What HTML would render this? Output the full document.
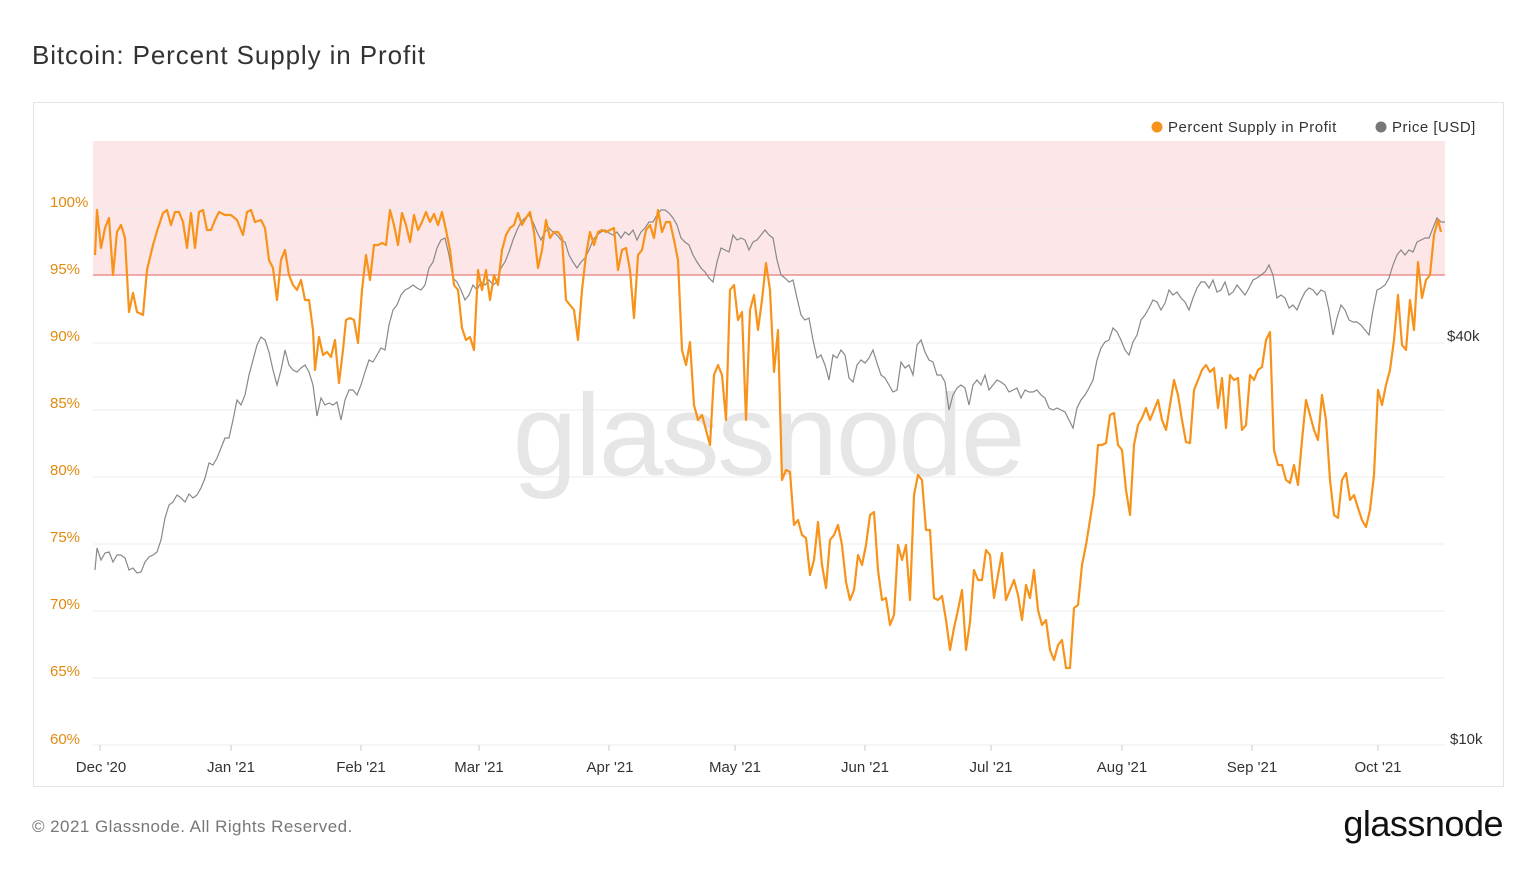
<!DOCTYPE html>
<html><head><meta charset="utf-8"><style>
body{margin:0;width:1536px;height:864px;background:#fff;font-family:"Liberation Sans",sans-serif;overflow:hidden}
</style></head><body>
<svg width="1536" height="864" xmlns="http://www.w3.org/2000/svg" font-family="Liberation Sans, sans-serif">
<text x="32" y="64" font-size="26" fill="#333" letter-spacing="0.9">Bitcoin: Percent Supply in Profit</text>
<rect x="33.5" y="102.5" width="1470" height="684" fill="#fff" stroke="#e3e3e3"/>
<rect x="93" y="141" width="1352" height="134" fill="#fde6e8"/>
<g stroke="#ececec" stroke-width="1">
<line x1="93" y1="209" x2="1445" y2="209"/><line x1="93" y1="343" x2="1445" y2="343"/>
<line x1="93" y1="410" x2="1445" y2="410"/><line x1="93" y1="477" x2="1445" y2="477"/>
<line x1="93" y1="544" x2="1445" y2="544"/><line x1="93" y1="611" x2="1445" y2="611"/>
<line x1="93" y1="678" x2="1445" y2="678"/><line x1="93" y1="745" x2="1445" y2="745"/>
</g>
<line x1="93" y1="275" x2="1445" y2="275" stroke="#e89090" stroke-width="1.5"/>
<g stroke="#ccc"><line x1="100" y1="745" x2="100" y2="751"/><line x1="231" y1="745" x2="231" y2="751"/><line x1="361" y1="745" x2="361" y2="751"/><line x1="479" y1="745" x2="479" y2="751"/><line x1="609" y1="745" x2="609" y2="751"/><line x1="735" y1="745" x2="735" y2="751"/><line x1="865" y1="745" x2="865" y2="751"/><line x1="991" y1="745" x2="991" y2="751"/><line x1="1122" y1="745" x2="1122" y2="751"/><line x1="1252" y1="745" x2="1252" y2="751"/><line x1="1378" y1="745" x2="1378" y2="751"/></g>
<text x="768" y="475" font-size="116" fill="#e6e6e6" text-anchor="middle" letter-spacing="-2">glassnode</text>
<g font-size="15" fill="#e08a10">
<text x="50" y="207">100%</text><text x="50" y="274">95%</text><text x="50" y="341">90%</text><text x="50" y="408">85%</text><text x="50" y="475">80%</text><text x="50" y="542">75%</text><text x="50" y="609">70%</text><text x="50" y="676">65%</text><text x="50" y="744">60%</text>
</g>
<g font-size="15" fill="#333"><text x="1447" y="341">$40k</text><text x="1450" y="744">$10k</text></g>
<g font-size="15" fill="#333" text-anchor="middle">
<text x="101" y="772">Dec '20</text><text x="231" y="772">Jan '21</text><text x="361" y="772">Feb '21</text><text x="479" y="772">Mar '21</text><text x="610" y="772">Apr '21</text><text x="735" y="772">May '21</text><text x="865" y="772">Jun '21</text><text x="991" y="772">Jul '21</text><text x="1122" y="772">Aug '21</text><text x="1252" y="772">Sep '21</text><text x="1378" y="772">Oct '21</text>
</g>
<circle cx="1157" cy="127" r="5.5" fill="#f7931a"/><text x="1168" y="132" font-size="15" fill="#333" letter-spacing="0.5">Percent Supply in Profit</text>
<circle cx="1381" cy="127" r="5.5" fill="#777"/><text x="1392" y="132" font-size="15" fill="#333" letter-spacing="0.5">Price [USD]</text>
<polyline fill="none" stroke="#888" stroke-width="1.2" points="95,570 97,548 101,560 105,553 109,552 113,562 117,555 121,555 125,558 129,570 133,568 137,573 141,572 145,562 149,557 153,555 157,552 161,540 165,518 169,505 173,502 177,495 181,498 185,502 189,494 193,498 197,495 201,488 205,478 209,463 213,465 217,458 221,448 225,438 229,438 233,420 237,400 241,405 245,395 249,375 253,360 257,345 261,337 265,340 269,352 273,370 277,385 281,370 285,350 289,365 293,370 297,372 301,368 305,365 309,372 313,385 317,416 321,398 325,405 329,403 333,405 337,402 341,420 345,400 349,390 353,390 357,395 361,385 365,372 369,360 373,362 377,355 381,348 385,350 389,325 393,310 397,305 401,295 405,290 409,288 413,285 417,288 421,290 425,285 429,268 433,262 437,248 441,240 445,238 449,255 453,278 457,282 461,290 465,300 469,295 473,285 477,290 481,282 485,285 489,280 493,285 497,282 501,268 505,262 509,252 513,240 517,230 521,222 525,218 529,215 533,222 537,232 541,240 545,232 549,228 553,232 557,235 561,240 565,242 569,255 573,262 577,268 581,262 585,258 589,250 593,240 597,235 601,232 605,230 609,233 613,235 617,232 621,238 625,232 629,235 633,230 637,240 641,232 645,228 649,222 653,222 657,215 661,210 665,210 669,213 673,218 677,225 681,238 685,242 689,245 693,255 697,262 701,268 705,272 709,278 713,282 717,262 721,248 725,250 729,252 733,235 737,240 741,238 745,240 749,250 753,242 757,240 761,235 765,230 769,235 773,238 777,260 781,275 785,278 789,282 793,280 797,298 801,315 805,320 809,318 813,340 817,358 821,355 825,365 829,380 833,355 837,358 841,350 845,355 849,378 853,382 857,365 861,360 865,363 869,358 873,350 877,363 881,375 885,378 889,385 893,392 897,390 901,362 905,368 909,365 913,375 917,345 921,340 925,352 929,360 933,362 937,375 941,375 945,382 949,410 953,395 957,388 961,385 965,388 969,405 973,385 977,380 981,385 985,375 989,390 993,385 997,380 1001,382 1005,385 1009,392 1013,390 1017,388 1021,398 1025,390 1029,392 1033,392 1037,390 1041,395 1045,398 1049,408 1053,410 1057,408 1061,410 1065,412 1069,420 1073,428 1077,408 1081,400 1085,395 1089,388 1093,380 1097,360 1101,348 1105,342 1109,340 1113,328 1117,332 1121,340 1125,350 1129,355 1133,342 1137,335 1141,320 1145,315 1149,308 1153,300 1157,302 1161,310 1165,303 1169,290 1173,295 1177,292 1181,298 1185,302 1189,310 1193,298 1197,288 1201,282 1205,282 1209,288 1213,280 1217,292 1221,290 1225,282 1229,295 1233,292 1237,285 1241,290 1245,295 1249,288 1253,280 1257,278 1261,275 1265,272 1269,265 1273,275 1277,298 1281,295 1285,298 1289,308 1293,305 1297,310 1301,300 1305,292 1309,288 1313,290 1317,295 1321,290 1325,292 1329,310 1333,335 1337,318 1341,305 1345,310 1349,320 1353,322 1357,322 1361,325 1365,330 1369,335 1373,310 1377,290 1381,288 1385,285 1389,278 1393,265 1397,255 1401,250 1405,255 1409,250 1413,252 1417,242 1421,240 1425,238 1429,238 1433,228 1437,218 1441,222 1445,222"/>
<polyline fill="none" stroke="#f7931a" stroke-width="2.2" stroke-linejoin="round" points="95,255 97,210 101,248 105,228 109,218 113,275 117,232 121,225 125,238 129,312 133,293 137,312 143,315 147,270 153,245 158,228 163,213 167,210 171,225 175,212 179,212 183,222 187,248 191,213 195,248 199,212 203,210 207,230 211,230 215,220 219,212 225,215 231,215 237,220 243,235 247,212 251,210 255,222 261,220 265,228 269,260 273,268 277,300 281,260 285,250 289,275 293,285 297,290 301,280 305,300 309,300 313,330 315,370 319,337 323,355 327,352 331,357 335,340 339,383 343,350 346,320 350,318 354,320 358,343 362,290 366,255 370,280 374,245 378,245 382,243 386,245 390,210 394,225 398,245 402,213 406,225 410,242 414,215 418,230 422,222 426,212 430,222 434,214 438,225 442,212 446,230 450,250 454,285 458,290 462,328 466,340 470,337 474,350 478,270 482,290 486,270 490,300 494,275 498,285 502,250 506,235 510,228 514,225 518,213 522,225 526,218 530,212 534,232 538,268 542,250 546,220 550,238 554,232 558,232 562,238 566,300 570,305 574,310 578,340 582,290 586,255 590,232 594,245 598,232 602,230 606,232 610,230 614,228 618,270 622,250 626,248 630,270 634,318 638,255 642,250 646,230 650,225 654,238 658,210 662,232 666,222 670,222 674,240 678,260 682,350 686,365 690,342 694,405 698,420 702,415 706,430 710,445 714,375 718,365 722,375 726,420 730,290 734,285 738,320 742,312 746,420 750,310 754,295 758,330 762,300 766,263 770,290 774,372 778,330 782,480 786,470 790,472 794,525 798,520 802,535 806,538 810,575 814,560 818,522 822,565 826,588 830,540 834,535 838,525 842,545 846,582 850,600 854,590 858,555 862,565 866,545 870,515 874,512 878,570 882,600 886,598 890,625 894,615 898,545 902,560 906,545 910,600 914,495 918,475 922,480 926,530 930,530 934,598 938,600 942,596 946,620 950,650 954,628 958,610 962,590 966,650 970,622 974,570 978,580 982,580 986,550 990,555 994,598 998,575 1002,553 1006,600 1010,590 1014,580 1018,595 1022,620 1026,585 1030,598 1034,570 1038,610 1042,625 1046,620 1050,650 1054,660 1058,645 1062,640 1066,668 1070,668 1074,608 1078,605 1082,565 1086,545 1090,520 1094,495 1098,445 1102,445 1106,443 1110,415 1114,413 1118,445 1122,450 1126,490 1130,515 1134,445 1138,425 1142,418 1146,408 1150,420 1154,410 1158,400 1162,420 1166,430 1170,405 1174,380 1178,395 1182,420 1186,442 1190,443 1194,390 1198,380 1202,370 1206,365 1210,372 1214,368 1218,408 1222,378 1226,428 1230,375 1234,380 1238,378 1242,430 1246,425 1250,375 1254,380 1258,370 1262,367 1266,340 1270,332 1274,450 1278,465 1282,465 1286,480 1290,483 1294,465 1298,485 1302,440 1306,400 1310,415 1314,430 1318,440 1322,395 1326,420 1330,480 1334,515 1338,518 1342,480 1346,473 1350,500 1354,495 1358,508 1362,520 1366,527 1370,510 1374,475 1378,390 1382,405 1386,385 1390,370 1394,340 1398,295 1402,345 1406,350 1410,300 1414,330 1418,262 1422,298 1426,280 1430,275 1434,235 1438,220 1441,232"/>
<text x="32" y="832" font-size="17" fill="#777" letter-spacing="0.45">© 2021 Glassnode. All Rights Reserved.</text>
<text x="1503" y="836" font-size="36" fill="#111" text-anchor="end" letter-spacing="-0.5">glassnode</text>
</svg>
</body></html>
